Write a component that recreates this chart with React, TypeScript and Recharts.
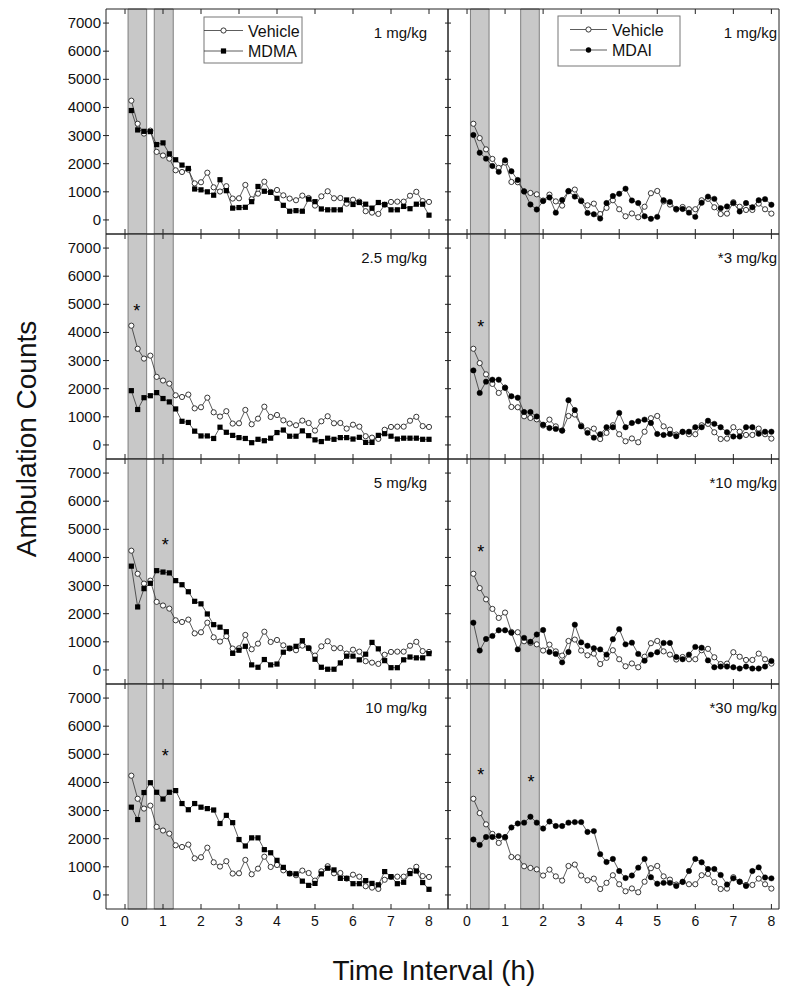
import React from 'react';
import { LineChart, Line, XAxis, YAxis, ReferenceArea, ReferenceLine, ReferenceDot } from 'recharts';

// sampling times, minutes after injection
const minutes = [
  10, 20, 30, 40, 50, 60, 70, 80, 90, 100, 110, 120, 130, 140, 150, 160,
  170, 180, 190, 200, 210, 220, 230, 240, 250, 260, 270, 280, 290, 300, 310, 320,
  330, 340, 350, 360, 370, 380, 390, 400, 410, 420, 430, 440, 450, 460, 470, 480,
];

const vehicleMdma = [
  4240, 3420, 3070, 3175, 2420, 2290, 2180, 1765, 1705, 1790, 1300, 1340, 1680, 1160, 1010, 1200,
  760, 770, 1245, 735, 935, 1360, 995, 1065, 875, 760, 700, 865, 780, 510, 840, 1020,
  770, 780, 580, 720, 650, 310, 260, 215, 540, 640, 650, 650, 860, 1000, 670, 640,
];
const mdma1 = [
  3890, 3200, 3150, 3140, 2680, 2740, 2350, 2140, 1950, 1830, 1100, 1070, 1000, 880, 1430, 1040,
  420, 440, 450, 650, 1190, 1020, 980, 770, 520, 310, 330, 310, 740, 650, 390, 360,
  360, 360, 710, 550, 620, 560, 420, 620, 550, 360, 360, 480, 400, 560, 560, 170,
];
const mdma25 = [
  1930, 1260, 1680, 1750, 1860, 1650, 1530, 1280, 840, 800, 490, 320, 320, 230, 630, 450,
  340, 260, 230, 80, 200, 150, 240, 440, 530, 310, 310, 500, 330, 180, 120, 240,
  200, 260, 260, 210, 270, 90, 90, 340, 400, 310, 210, 240, 240, 240, 200, 200,
];
const mdma5 = [
  3690, 2240, 2890, 3080, 3530, 3480, 3450, 3175, 3030, 2780, 2440, 2350, 1990, 1610, 1520, 1360,
  590, 700, 840, 180, 95, 370, 180, 210, 630, 770, 840, 1040, 770, 380, 95, 25,
  25, 250, 490, 490, 360, 560, 980, 750, 330, 80, 80, 360, 460, 430, 430, 580,
];
const mdma10 = [
  3120, 2680, 3640, 3990, 3650, 3410, 3650, 3710, 3250, 3030, 3250, 3120, 3070, 3020, 2540, 2830,
  2570, 1970, 1740, 2030, 2030, 1610, 1500, 1230, 980, 760, 750, 490, 340, 410, 750, 950,
  890, 590, 590, 400, 400, 510, 410, 360, 830, 650, 400, 450, 760, 850, 440, 200,
];

const vehicleMdai = [
  3420, 2910, 2510, 2170, 1850, 2040, 1350, 1340, 1020, 960, 910, 690, 900, 660, 510, 1030,
  1080, 690, 520, 580, 210, 430, 700, 380, 130, 230, 95, 470, 950, 1030, 660, 545,
  370, 460, 380, 380, 700, 750, 450, 210, 225, 630, 470, 355, 355, 580, 380, 225,
];
const mdai1 = [
  3020, 2390, 2180, 1920, 1710, 2120, 1730, 1420, 1010, 550, 370, 670, 800, 260, 710, 1020,
  830, 670, 250, 200, 50, 600, 850, 930, 1110, 690, 600, 130, 40, 110, 700, 640,
  390, 390, 260, 110, 610, 830, 750, 420, 480, 600, 300, 600, 450, 700, 740, 540,
];
const mdai3 = [
  2650, 1850, 2250, 2320, 2320, 2030, 1730, 1680, 1170, 1170, 1010, 720, 600, 570, 510, 1590,
  1240, 660, 430, 260, 380, 630, 630, 1140, 630, 780, 840, 900, 780, 390, 355, 390,
  310, 470, 470, 630, 630, 860, 750, 630, 450, 300, 300, 630, 630, 400, 470, 470,
];
const mdai10 = [
  1680, 690, 1100, 1210, 1410, 1410, 1320, 730, 1140, 1000, 1260, 1420, 640, 570, 270, 640,
  1610, 980, 860, 770, 730, 545, 1090, 1450, 910, 970, 570, 330, 545, 630, 960, 960,
  460, 380, 545, 820, 790, 340, 95, 120, 120, 95, 50, 120, 50, 50, 120, 320,
];
const mdai30 = [
  1970, 1780, 2060, 2060, 2100, 2060, 2400, 2540, 2570, 2780, 2570, 2360, 2610, 2450, 2450, 2570,
  2590, 2590, 2240, 2270, 1450, 1170, 1280, 850, 600, 690, 970, 1280, 630, 400, 430, 430,
  320, 470, 850, 1280, 1160, 920, 920, 710, 370, 590, 470, 320, 850, 980, 620, 590,
];

const hourTicks = [0, 1, 2, 3, 4, 5, 6, 7, 8];
const countTicks = [0, 1000, 2000, 3000, 4000, 5000, 6000, 7000];

// injection windows (grey bars), hours
const mdmaBands = [[0.08, 0.57], [0.77, 1.27]];
const mdaiBands = [[0.09, 0.58], [1.41, 1.9]];

const mdmaDoses = ['1 mg/kg', '2.5 mg/kg', '5 mg/kg', '10 mg/kg'];
const mdaiDoses = ['1 mg/kg', '*3 mg/kg', '*10 mg/kg', '*30 mg/kg'];

// significance markers [hour, count]
const mdmaStars = [[], [[0.31, 4900]], [[1.06, 4600]], [[1.06, 5070]]];
const mdaiStars = [[], [[0.36, 4340]], [[0.36, 4340]], [[0.36, 4390], [1.68, 4150]]];

const FONT = "'Liberation Sans', Arial, sans-serif";
const NARROW = "'Liberation Sans Narrow', 'Arial Narrow', 'Liberation Sans', sans-serif";
const AXIS = '#222';
const LINE = '#333';
const PLOT_TOP = 9;
const ROW_H = 225;

const SquareDot = (p: any) => (
  <rect key={`sq-${p.index}`} x={p.cx - 2.6} y={p.cy - 2.6} width={5.2} height={5.2} fill="#000" />
);

// asterisk drawn centred on the reference point
const StarMark = (p: any) => (
  <text x={p.cx} y={p.cy + 10} textAnchor="middle" fontSize={18} fontFamily={FONT} fill="#000">*</text>
);

const yTick = (showLabel: boolean) => (p: any) => (
  <g key={`yt-${p.index}`}>
    <line x1={p.x - 3} x2={p.x + 3} y1={p.y} y2={p.y} stroke={AXIS} />
    {showLabel && (
      <text x={p.x - 5} y={p.y + 5} textAnchor="end" fontSize={15} fontFamily={FONT} fill="#111">
        {p.payload.value}
      </text>
    )}
  </g>
);

const bottomTick = (showLabel: boolean) => (p: any) => (
  <g key={`bt-${p.index}`}>
    <line x1={p.x} x2={p.x} y1={p.y} y2={p.y - 5} stroke={AXIS} />
    {showLabel && (
      <text x={p.x} y={p.y + 17} textAnchor="middle" fontSize={14} fontFamily={NARROW} fill="#111">
        {p.payload.value}
      </text>
    )}
  </g>
);

const topTick = (p: any) => (
  <line key={`tt-${p.index}`} x1={p.x} x2={p.x} y1={p.y} y2={p.y + 5} stroke={AXIS} />
);

interface PanelProps {
  row: number;
  left: boolean;
  vehicle: number[];
  drug: number[];
  bands: number[][];
  stars: number[][];
}

const Panel: React.FC<PanelProps> = ({ row, left, vehicle, drug, bands, stars }) => {
  const data = minutes.map((m, i) => ({ t: m / 60, veh: vehicle[i], drug: drug[i] }));
  const xMax = left ? 8.5 : 8.2;
  const yw = left ? 106 : 8;
  const plotW = left ? 342 : 331;
  const bottomRow = row === 3;
  const hb = bottomRow ? 30 : 2;
  const width = yw + plotW + 2;
  const height = 2 + ROW_H + hb;

  return (
    <div style={{ position: 'absolute', left: left ? 0 : 440, top: PLOT_TOP + row * ROW_H - 2 }}>
      <LineChart width={width} height={height} data={data} margin={{ top: 0, right: 2, bottom: 0, left: 0 }}>
        <XAxis
          xAxisId="b"
          dataKey="t"
          type="number"
          domain={[-0.5, xMax]}
          ticks={hourTicks}
          interval={0}
          height={hb}
          tickSize={0}
          tickMargin={0}
          tickLine={false}
          axisLine={{ stroke: AXIS }}
          tick={bottomTick(bottomRow)}
        />
        <XAxis
          xAxisId="t"
          orientation="top"
          dataKey="t"
          type="number"
          domain={[-0.5, xMax]}
          ticks={hourTicks}
          interval={0}
          height={2}
          tickSize={0}
          tickMargin={0}
          tickLine={false}
          axisLine={{ stroke: AXIS }}
          tick={topTick}
        />
        <YAxis
          domain={[-500, 7500]}
          ticks={countTicks}
          interval={0}
          width={yw}
          tickSize={0}
          tickMargin={0}
          tickLine={false}
          axisLine={{ stroke: AXIS }}
          tick={yTick(left)}
        />
        {bands.map(([a, b], i) => (
          <ReferenceArea
            key={`band-${i}`}
            xAxisId="b"
            x1={a}
            x2={b}
            fill="#c8c8c8"
            fillOpacity={1}
            stroke="#666"
            strokeWidth={0.8}
          />
        ))}
        <ReferenceLine xAxisId="b" x={xMax} stroke={AXIS} />
        <Line
          xAxisId="b"
          dataKey="veh"
          stroke={LINE}
          strokeWidth={0.8}
          dot={{ r: 2.6, fill: '#fff', stroke: '#222', strokeWidth: 0.9 }}
          isAnimationActive={false}
        />
        <Line
          xAxisId="b"
          dataKey="drug"
          stroke={LINE}
          strokeWidth={0.8}
          dot={left ? SquareDot : { r: 2.7, fill: '#000', stroke: '#000', strokeWidth: 0.5 }}
          isAnimationActive={false}
        />
        {stars.map(([t, v], i) => (
          <ReferenceDot key={`star-${i}`} xAxisId="b" x={t} y={v} r={0} shape={StarMark} />
        ))}
      </LineChart>
    </div>
  );
};

const LegendBox: React.FC<{ x: number; y: number; w: number; h: number; lineX: number[]; drugName: string; square: boolean }> = ({
  x, y, w, h, lineX, drugName, square,
}) => {
  const mid = (lineX[0] + lineX[1]) / 2;
  const rows = [y + 13.5, y + 34];
  return (
    <g>
      <rect x={x} y={y} width={w} height={h} fill="#fff" stroke="#777" strokeWidth={1} />
      <line x1={lineX[0]} x2={lineX[1]} y1={rows[0]} y2={rows[0]} stroke={LINE} strokeWidth={0.8} />
      <circle cx={mid} cy={rows[0]} r={2.6} fill="#fff" stroke="#222" strokeWidth={0.9} />
      <line x1={lineX[0]} x2={lineX[1]} y1={rows[1]} y2={rows[1]} stroke={LINE} strokeWidth={0.8} />
      {square ? (
        <rect x={mid - 2.6} y={rows[1] - 2.6} width={5.2} height={5.2} fill="#000" />
      ) : (
        <circle cx={mid} cy={rows[1]} r={2.7} fill="#000" />
      )}
      <text x={lineX[1] + 5} y={rows[0] + 6} fontSize={16} fontFamily={FONT} fill="#111">Vehicle</text>
      <text x={lineX[1] + 5} y={rows[1] + 6} fontSize={16} fontFamily={FONT} fill="#111">{drugName}</text>
    </g>
  );
};

export default function App() {
  const mdmaSeries = [mdma1, mdma25, mdma5, mdma10];
  const mdaiSeries = [mdai1, mdai3, mdai10, mdai30];
  return (
    <div style={{ position: 'absolute', left: 0, top: 0, width: 800, height: 994, background: '#fff', fontFamily: FONT }}>
      {mdmaSeries.map((s, r) => (
        <Panel key={`l${r}`} row={r} left vehicle={vehicleMdma} drug={s} bands={mdmaBands} stars={mdmaStars[r]} />
      ))}
      {mdaiSeries.map((s, r) => (
        <Panel key={`r${r}`} row={r} left={false} vehicle={vehicleMdai} drug={s} bands={mdaiBands} stars={mdaiStars[r]} />
      ))}
      <svg width={800} height={994} style={{ position: 'absolute', left: 0, top: 0, pointerEvents: 'none' }}>
        {mdmaDoses.map((d, r) => (
          <text key={`dl${r}`} x={427} y={38 + r * ROW_H} textAnchor="end" fontSize={15} fontFamily={FONT} fill="#111">{d}</text>
        ))}
        {mdaiDoses.map((d, r) => (
          <text key={`dr${r}`} x={777} y={38 + r * ROW_H} textAnchor="end" fontSize={15} fontFamily={FONT} fill="#111">{d}</text>
        ))}
        <LegendBox x={204} y={17} w={98} h={46} lineX={[204, 243]} drugName="MDMA" square />
        <LegendBox x={558} y={16} w={122} h={50} lineX={[570, 607]} drugName="MDAI" square={false} />
        <text x={434} y={980} textAnchor="middle" fontSize={28} fontFamily={FONT} fill="#111">Time Interval (h)</text>
        <text x={36} y={439} transform="rotate(-90 36 439)" textAnchor="middle" fontSize={28} fontFamily={FONT} fill="#111">
          Ambulation Counts
        </text>
      </svg>
    </div>
  );
}
